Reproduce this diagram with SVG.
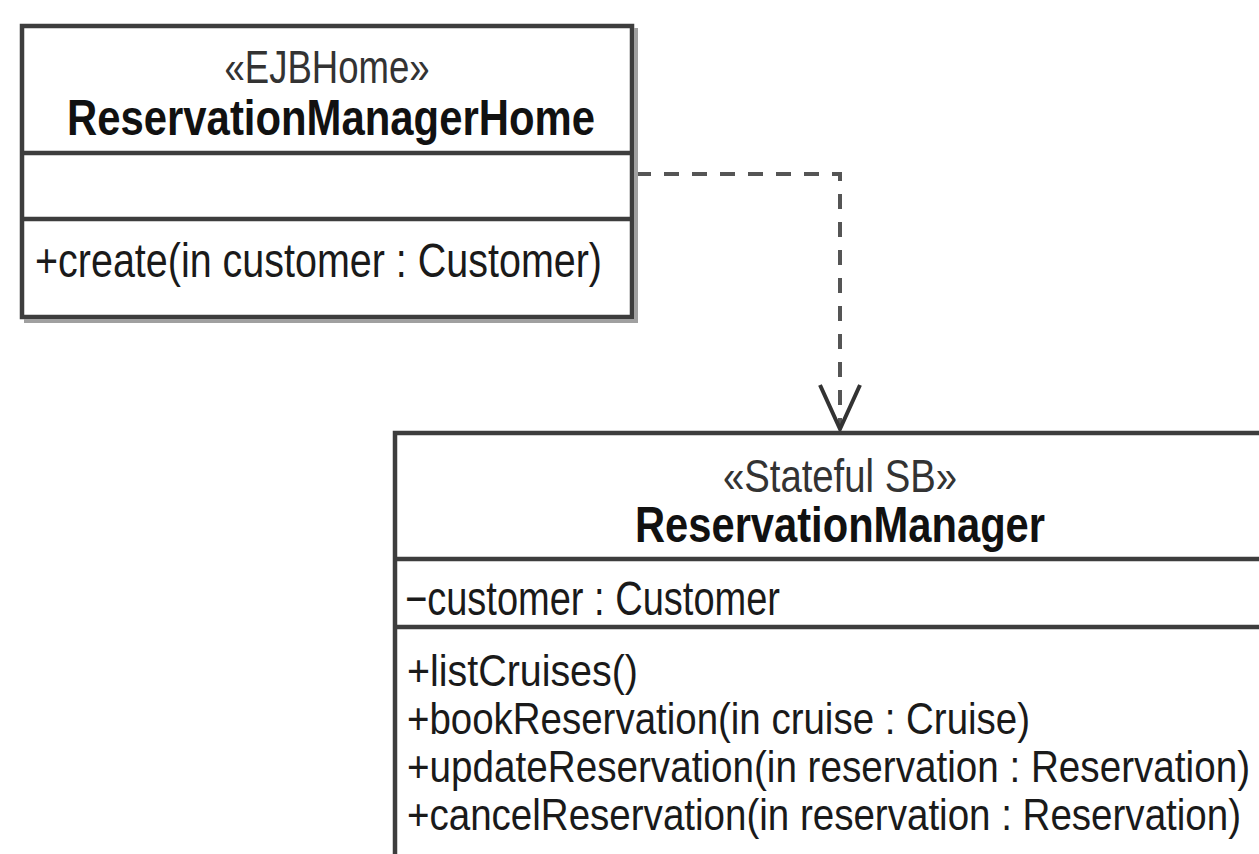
<svg xmlns="http://www.w3.org/2000/svg" width="1259" height="854" viewBox="0 0 1259 854">
<style>
  .box { fill: #ffffff; stroke: #3d3d3d; stroke-width: 4.5; }
  .div { stroke: #3d3d3d; stroke-width: 4.5; }
  .shadow { stroke: #a0a0a0; stroke-width: 4; fill: none; }
  .t { font-family: "Liberation Sans", Arial, sans-serif; font-size: 48px; fill: #1a1a1a; }
  .m { font-family: "Liberation Sans", Arial, sans-serif; font-size: 45px; fill: #1a1a1a; }
  .st { font-family: "Liberation Sans", Arial, sans-serif; font-size: 46px; fill: #333333; }
  .b { font-family: "Liberation Sans", Arial, sans-serif; font-size: 50px; font-weight: bold; fill: #111111; }
  .dep { fill: none; stroke: #555555; stroke-width: 4; stroke-dasharray: 15 13; }
</style>
<defs>
  <marker id="open" markerUnits="userSpaceOnUse" markerWidth="50" markerHeight="46" viewBox="0 0 50 46" refX="46" refY="23" orient="auto" overflow="visible">
    <path d="M2,3 L46,23 L2,43" fill="none" stroke="#333333" stroke-width="4"/>
  </marker>
</defs>
<rect width="1259" height="854" fill="#ffffff"/>

<g id="connectors">
  <path class="dep" d="M636,174 H840 V429" marker-end="url(#open)"/>
</g>

<g id="ReservationManagerHome">
  <rect class="box" x="22" y="26" width="610" height="291"/>
  <path class="shadow" d="M636,28 V321 H24"/>
  <line class="div" x1="22" y1="153" x2="632" y2="153"/>
  <line class="div" x1="22" y1="219" x2="632" y2="219"/>
  <text class="st" x="327" y="83" text-anchor="middle" textLength="205" lengthAdjust="spacingAndGlyphs">«EJBHome»</text>
  <text class="b" x="331" y="135" text-anchor="middle" textLength="528" lengthAdjust="spacingAndGlyphs">ReservationManagerHome</text>
  <text class="t" x="35" y="277" textLength="567" lengthAdjust="spacingAndGlyphs">+create(in customer : Customer)</text>
</g>

<g id="ReservationManager">
  <rect class="box" x="395" y="433" width="920" height="460"/>
  <line class="div" x1="395" y1="559" x2="1259" y2="559"/>
  <line class="div" x1="395" y1="627" x2="1259" y2="627"/>
  <text class="st" x="840" y="492" text-anchor="middle" textLength="234" lengthAdjust="spacingAndGlyphs">«Stateful SB»</text>
  <text class="b" x="840" y="542" text-anchor="middle" textLength="410" lengthAdjust="spacingAndGlyphs">ReservationManager</text>
  <text class="t" x="405" y="615" textLength="375" lengthAdjust="spacingAndGlyphs">−customer : Customer</text>
  <text class="m" x="407" y="686" textLength="231" lengthAdjust="spacingAndGlyphs">+listCruises()</text>
  <text class="m" x="407" y="734" textLength="623" lengthAdjust="spacingAndGlyphs">+bookReservation(in cruise : Cruise)</text>
  <text class="m" x="407" y="782" textLength="843" lengthAdjust="spacingAndGlyphs">+updateReservation(in reservation : Reservation)</text>
  <text class="m" x="407" y="830" textLength="834" lengthAdjust="spacingAndGlyphs">+cancelReservation(in reservation : Reservation)</text>
</g>
</svg>
